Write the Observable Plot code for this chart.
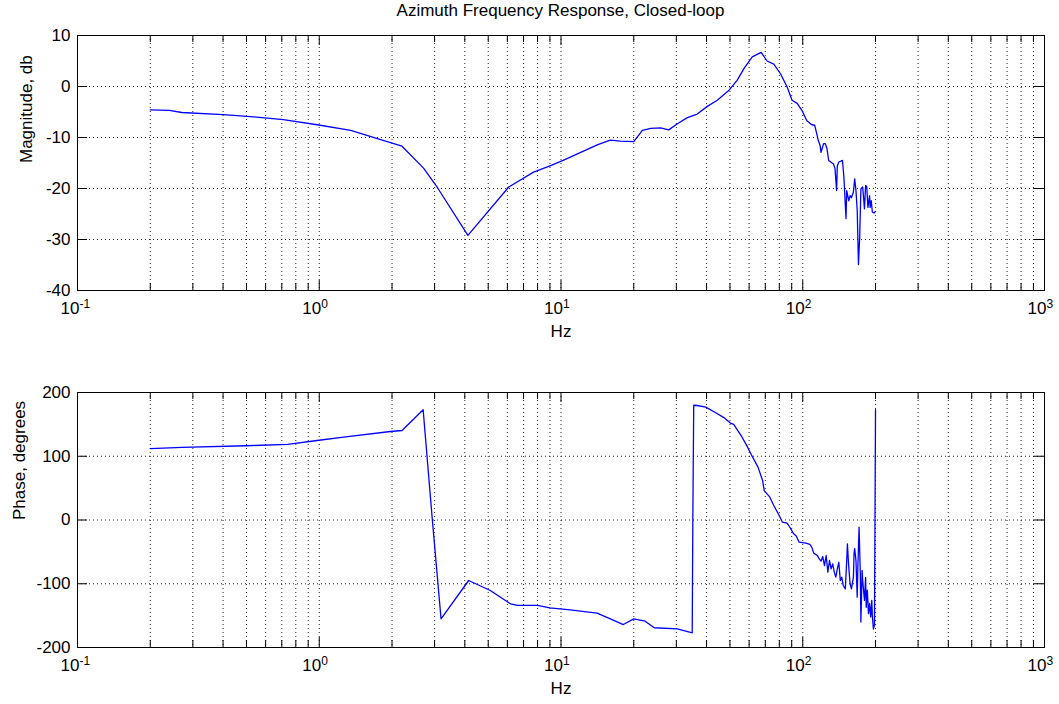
<!DOCTYPE html>
<html><head><meta charset="utf-8">
<script src="https://cdn.jsdelivr.net/npm/d3@7"></script>
<script src="https://cdn.jsdelivr.net/npm/@observablehq/plot@0.6"></script>
<style>
html,body{margin:0;padding:0;background:#fff;overflow:hidden;}
#title{height:22px;line-height:22px;font-size:17px;font-family:"Liberation Sans",Arial,sans-serif;padding-left:77px;width:967px;text-align:center;color:#000;}
svg{display:block}
</style></head><body>
<div id="title">Azimuth Frequency Response, Closed-loop</div>
<div id="mag"></div>
<div id="phase"></div>
<script>
// ---- data ----
const magFreq = [0.2,0.24,0.27,0.4,0.52,0.71,0.98,1.35,1.85,2.2,2.7,3.08,4.12,6.08,7.7,9.06,10.2,14.2,16.0,17.6,20.0,21.7,23.5,25.8,27.9,30.3,33.3,36.6,40.3,44.3,49.4,53.5,57.1,61.8,67.3,71.2,75.9,80.9,86.2,90.3,94.8,99.5,104,109,112,113,116,118,119,122,124,126,128,134,136,138,139,141,146,148,150,151,152,155,157,159,162,164,166,168,170,172,174,177,180,182,184,186,189,190,192,194,197,200];
const magDb = [-4.6,-4.7,-5.1,-5.5,-5.9,-6.5,-7.5,-8.6,-10.6,-11.7,-16.0,-19.8,-29.2,-19.7,-16.8,-15.5,-14.5,-11.4,-10.5,-10.7,-10.8,-8.6,-8.2,-8.1,-8.5,-7.3,-6.1,-5.4,-3.9,-2.7,-0.8,1.2,3.5,5.8,6.7,5.0,4.4,2.5,-0.1,-2.7,-3.3,-4.8,-6.7,-7.5,-7.6,-8.3,-10.6,-11.6,-12.9,-11.2,-11.2,-12.2,-14.5,-15.2,-16.1,-20.4,-15.6,-14.8,-14.5,-17.8,-23.3,-25.9,-20.4,-22.4,-21.4,-21.8,-20.7,-18.1,-20.4,-24.3,-34.9,-29.5,-20.1,-19.7,-24.0,-19.4,-19.7,-23.7,-21.4,-23.7,-22.4,-24.6,-24.8,-24.5];

const phaseFreq = [0.2,0.24,0.27,0.5,0.74,0.98,1.26,1.97,2.2,2.69,2.93,3.19,4.15,5.1,6.18,6.6,8.0,9.0,10.9,14.1,16.0,18.1,20.0,22.3,24.3,30.3,34.9,35.1,35.4,36.6,39.7,43.3,47.0,50.2,51.8,55.6,58.6,61.0,65.3,68.2,69.3,73.1,75.9,79.9,82.4,86.2,88.3,91.7,94,96.6,103,107,109,111,115,117,119,121,123,125,127,129,131,133,135,137,139,141,143,145,147,150,152,153,155,157,159,162,163,164,166,168,169,171,173,174,176,177,180,182,183,185,187,189,191,193,194,196,198,200];
const phaseDeg = [112,113,114,116.5,118.5,124.7,130,138.8,140.4,172.9,4.4,-155,-94.9,-110.6,-131.5,-134,-134,-137.8,-141,-146,-155,-164,-155,-158.7,-169,-170.7,-177,2,180,179.6,177,169,161,152,150,132.5,117,104,83,62,46,35.8,22.7,7,-3.4,-5,-11,-21.7,-25,-34.8,-36.3,-38.4,-42.6,-52,-55.7,-61,-64.6,-57.3,-71.4,-55.7,-81.8,-63.5,-76.6,-68.8,-81.8,-89.7,-76.6,-66.2,-94.9,-89.7,-102.7,-108,-63.5,-37.3,-74,-100,-108,-89.7,-53,-45,-63.5,-121,-74,-11.3,-84,-160,-79,-95,-126,-90,-137,-110,-147,-131,-152,-126,-150,-171,-165,173];

const decades = [0.1, 1, 10, 100, 1000];
const decadeExp = ["-1", "0", "1", "2", "3"];
const magTicks = [-40, -30, -20, -10, 0, 10];
const phaseTicks = [-200, -100, 0, 100, 200];
const xLabel = "Hz";
const magLabel = "Magnitude, db";
const phaseLabel = "Phase, degrees";

// ---- layout ----
const W = 1059, ML = 77, MR = 15, FH = 255, FW = W - ML - MR;
const isDecade = t => Math.abs(Math.log10(t) - Math.round(Math.log10(t))) < 1e-9;
const minorX = d3.scaleLog().domain([0.1, 1000]).ticks().filter(t => !isDecade(t));
const innerDecades = decades.slice(1, -1);

function panel(freq, vals, ticks, ylabel, marginTop, marginBottom, ylabelDx) {
  const data = d3.zip(freq, vals);
  const dotted = {stroke: "#000", strokeWidth: 1, strokeDasharray: "1,3", strokeOpacity: 0.85};
  return Plot.plot({
    width: W,
    height: marginTop + FH + marginBottom,
    marginLeft: ML, marginRight: MR, marginTop, marginBottom,
    style: {fontFamily: "'Liberation Sans', Arial, sans-serif", fontSize: "17px", color: "#000", background: "#fff"},
    x: {type: "log", domain: [decades[0], decades[decades.length - 1]], axis: null},
    y: {domain: [ticks[0], ticks[ticks.length - 1]], axis: null},
    marks: [
      Plot.ruleX(minorX.concat(innerDecades), {x: d => d, ...dotted}),
      Plot.ruleY(ticks.slice(1, -1), {y: d => d, ...dotted}),
      Plot.line(data, {x: d => d[0], y: d => d[1], stroke: "#0000ff", strokeWidth: 1.3}),
      Plot.tickX(minorX, {x: d => d, insetTop: FH - 7, stroke: "#000"}),
      Plot.tickX(minorX, {x: d => d, insetBottom: FH - 7, stroke: "#000"}),
      Plot.tickX(decades, {x: d => d, insetTop: FH - 10, stroke: "#000"}),
      Plot.tickX(decades, {x: d => d, insetBottom: FH - 10, stroke: "#000"}),
      Plot.tickY(ticks, {y: d => d, insetRight: FW - 10, stroke: "#000"}),
      Plot.tickY(ticks, {y: d => d, insetLeft: FW - 10, stroke: "#000"}),
      Plot.frame({stroke: "#000"}),
      Plot.text(ticks, {y: d => d, text: d => String(d), frameAnchor: "left", textAnchor: "end", dx: -7}),
      Plot.text(decades, {x: d => d, text: () => "10", frameAnchor: "bottom", textAnchor: "end", dx: 2, dy: 23}),
      Plot.text(decades, {x: d => d, text: (d, i) => decadeExp[i], frameAnchor: "bottom", textAnchor: "start", dx: 2, dy: 17, fontSize: 12}),
      Plot.text([xLabel], {text: d => d, frameAnchor: "bottom", dy: 46}),
      Plot.text([ylabel], {text: d => d, frameAnchor: "left", dx: ylabelDx, rotate: -90})
    ]
  });
}

document.getElementById("mag").append(panel(magFreq, magDb, magTicks, magLabel, 13, 64, -51));
document.getElementById("phase").append(panel(phaseFreq, phaseDeg, phaseTicks, phaseLabel, 38, 57, -58));
</script>
</body></html>
